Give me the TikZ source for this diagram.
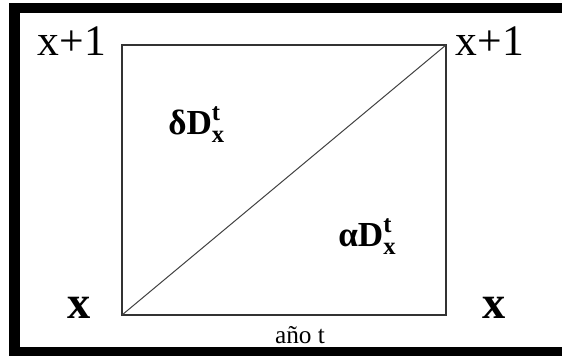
\documentclass[tikz,border=0pt]{standalone}
\usepackage{amsmath}
\usepackage{fontspec}
\setmainfont{Liberation Serif}
\usepackage{tikz}

\tikzset{
    etiq/.style = {inner sep=0, font=\fontsize{31}{36}\selectfont},
    etiqb/.style = {inner sep=0, font=\fontsize{33}{38}\selectfont\bfseries},
    tasa/.style = {inner sep=0, font=\fontsize{25}{29}\selectfont},
    pie/.style = {inner sep=0, font=\fontsize{18}{21}\selectfont}
}

\begin{document}
\begin{tikzpicture}[x = 0.025cm, y = -0.025cm]

    \useasboundingbox (0,0) rectangle (562,356);

    % Marco negro
    \fill[black] (9,3) rectangle (562,13);
    \fill[black] (9,3) rectangle (20,356);
    \fill[black] (9,347) rectangle (562,356);

    % Rectangulo de Lexis
    \coordinate (sw) at (122,315);
    \coordinate (ne) at (446,45);
    \draw[line width=0.9pt, black!80] (sw) rectangle (ne);

    % Diagonal
    \draw[line width=0.7pt, black!75] (sw) -- (ne);

    % Edades
    \node[etiq, anchor=base] (xsup1) at (72,55) {x+1};
    \node[etiq, anchor=base] (xsup2) at (490,55) {x+1};
    \node[etiqb, anchor=base] (xinf1) at (79,318) {x};
    \node[etiqb, anchor=base] (xinf2) at (494,318) {x};

    % Tasas
    \node[tasa, anchor=base west] (delta) at (168,134)
        {$\textbf{δ}\textbf{D}^{\textbf{t}}_{\textbf{x}}$};
    \node[tasa, anchor=base west] (alfa) at (338,246)
        {$\textbf{α}\textbf{D}^{\textbf{t}}_{\textbf{x}}$};

    % Año
    \node[pie, anchor=base] (anio) at (300,343) {año t};

\end{tikzpicture}
\end{document}
